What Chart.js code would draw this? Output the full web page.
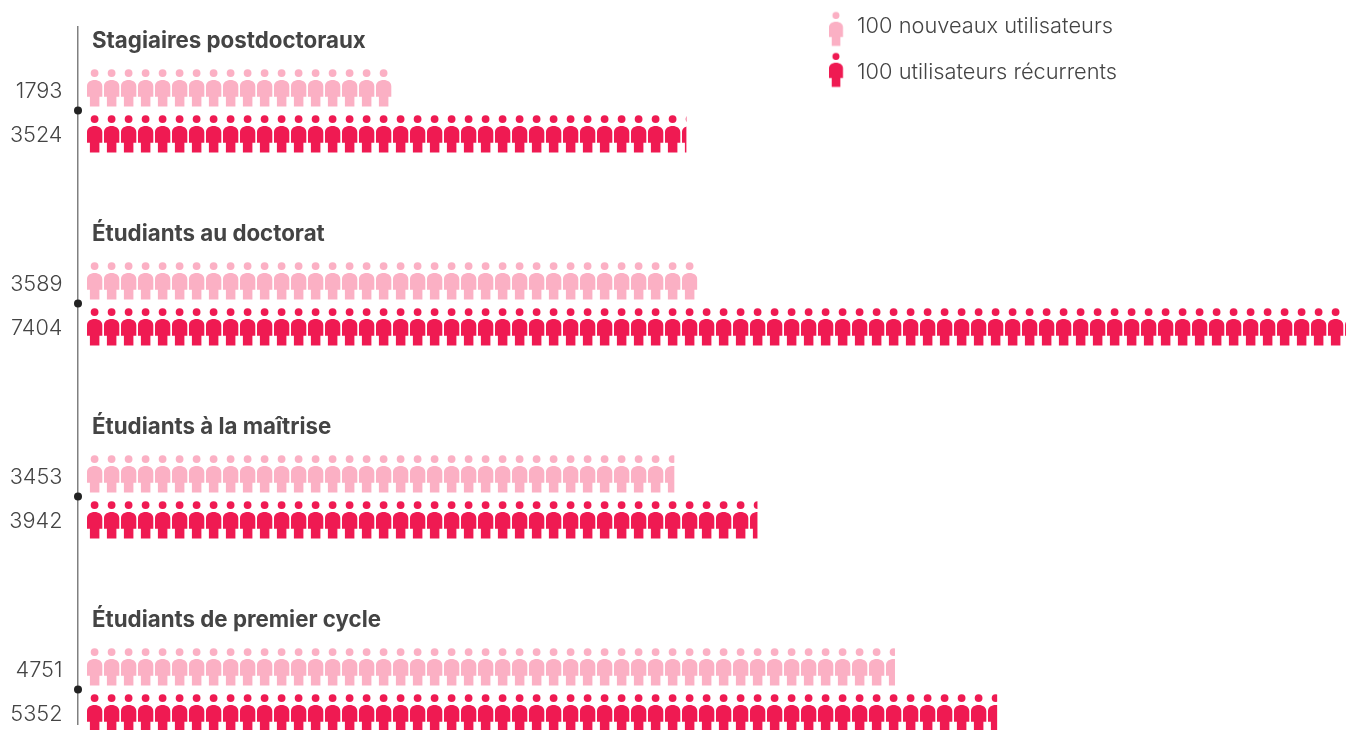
<!DOCTYPE html>
<html>
<head>
<meta charset="utf-8">
<style>
    html, body { margin: 0; padding: 0; background: #fff; overflow: hidden; }
    canvas { display: block; }
</style>
<script src="https://cdn.jsdelivr.net/npm/chart.js@4"></script>
</head>
<body>
<canvas id="mainChart" width="1364" height="730"></canvas>
<script>
const categories = ['Stagiaires postdoctoraux', 'Étudiants au doctorat', 'Étudiants à la maîtrise', 'Étudiants de premier cycle'];
const newUsers = [1793, 3589, 3453, 4751];
const returningUsers = [3524, 7404, 3942, 5352];
const legendLabels = ['100 nouveaux utilisateurs', '100 utilisateurs récurrents'];

const lightColor = '#fbb0c4';
const darkColor = '#ef1a52';
const textColor = '#444444';

// one person, drawn on a 17x46 tile so the bars can repeat it
function makeTile(color) {
    const tile = document.createElement('canvas');
    tile.width = 17;
    tile.height = 46;
    const c = tile.getContext('2d');
    const top = 4.3;
    c.fillStyle = color;
    c.beginPath();
    c.arc(7.6, top + 3.8, 3.9, 0, Math.PI * 2);
    c.fill();
    c.beginPath();
    c.moveTo(0, top + 27.5);
    c.lineTo(0, top + 17);
    c.bezierCurveTo(0, top + 13, 3.5, top + 10.8, 7.6, top + 10.8);
    c.bezierCurveTo(11.7, top + 10.8, 15.3, top + 13, 15.3, top + 17);
    c.lineTo(15.3, top + 27.5);
    c.lineTo(12.4, top + 27.5);
    c.lineTo(12.4, top + 37.3);
    c.lineTo(2.9, top + 37.3);
    c.lineTo(2.9, top + 27.5);
    c.closePath();
    c.fill();
    return tile;
}

const tiles = [makeTile(lightColor), makeTile(darkColor)];

const pictogramPlugin = {
    id: 'pictogram',
    beforeDatasetsDraw(chart) {
        const ctx = chart.ctx;
        chart.data.datasets.forEach((ds, i) => {
            chart.getDatasetMeta(i).data.forEach(el => {
                const pattern = ctx.createPattern(tiles[i], 'repeat');
                const top = Math.round(el.y - el.height / 2);
                pattern.setTransform(new DOMMatrix().translate(Math.round(el.base), top));
                el.options = Object.assign({}, el.options, { backgroundColor: pattern });
            });
        });
    },
    afterDraw(chart) {
        const ctx = chart.ctx;
        const yScale = chart.scales.y;
        const axisX = chart.chartArea.left;
        ctx.save();
        ctx.textBaseline = 'middle';

        categories.forEach((name, i) => {
            const center = yScale.getPixelForValue(i);

            ctx.fillStyle = '#222222';
            ctx.beginPath();
            ctx.arc(axisX, center - 1, 4, 0, Math.PI * 2);
            ctx.fill();

            ctx.fillStyle = textColor;
            ctx.textAlign = 'left';
            ctx.font = '700 22.3px Inter';
            ctx.fillText(name, 92, center - 70.5);

            ctx.textAlign = 'right';
            ctx.font = '300 21.7px Inter';
            ctx.fillText(String(newUsers[i]), 62.5, center - 20);
            ctx.fillText(String(returningUsers[i]), 62.5, center + 23.5);
        });

        ctx.textAlign = 'left';
        ctx.font = '300 21.8px Inter';
        legendLabels.forEach((label, i) => {
            ctx.drawImage(tiles[i], 829, 8 + i * 41, 15.5, 42);
            ctx.fillStyle = textColor;
            ctx.fillText(label, 857, 26 + i * 46);
        });
        ctx.restore();
    }
};

new Chart(document.getElementById('mainChart').getContext('2d'), {
    type: 'bar',
    data: {
        datasets: [
            { label: legendLabels[0], data: newUsers.map((v, i) => ({ x: v, y: i })), backgroundColor: lightColor, barThickness: 46, clip: false },
            { label: legendLabels[1], data: returningUsers.map((v, i) => ({ x: v, y: i })), backgroundColor: darkColor, barThickness: 46, clip: false }
        ]
    },
    options: {
        indexAxis: 'y',
        responsive: false,
        animation: false,
        events: [],
        layout: { padding: { left: 78, top: 27, bottom: 6, right: 0 } },
        scales: {
            x: { type: 'linear', display: false, min: -53, max: 7512 },
            y: {
                type: 'linear',
                reverse: true,
                offset: false,
                min: -0.4378,
                max: 3.1736,
                ticks: { display: false },
                grid: { display: false, drawTicks: false },
                border: { color: '#808080', width: 1.5 }
            }
        },
        plugins: {
            legend: { display: false },
            tooltip: { enabled: false }
        }
    },
    plugins: [pictogramPlugin]
});
</script>
</body>
</html>
